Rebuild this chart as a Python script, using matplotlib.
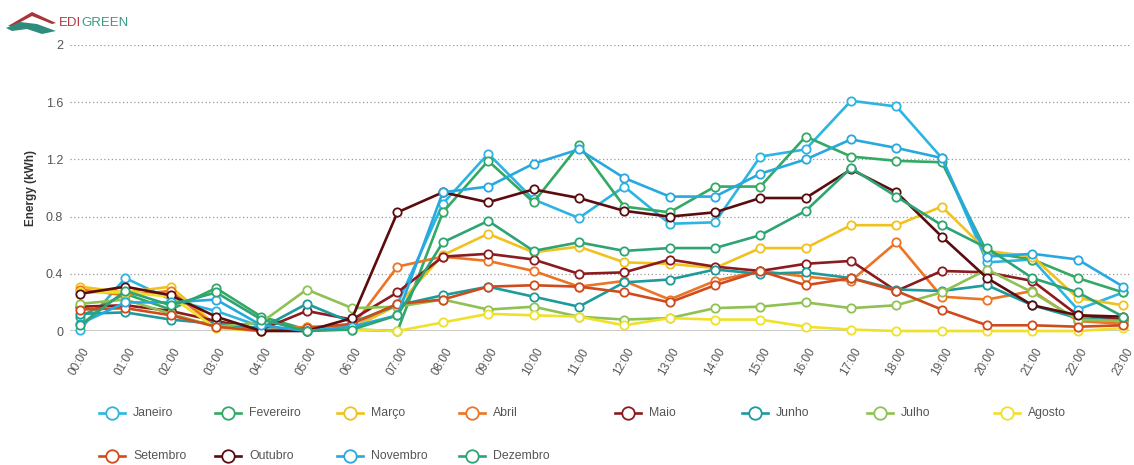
import matplotlib
matplotlib.use("Agg")
import matplotlib.pyplot as plt
from matplotlib.lines import Line2D
from matplotlib.patches import Polygon
from matplotlib.transforms import ScaledTranslation

plt.rcParams['font.family'] = ['Liberation Sans', 'DejaVu Sans']

hours = ["%02d:00" % h for h in range(24)]

janeiro = [0.01, 0.37, 0.22, 0.14, 0.03, 0.00, 0.02, 0.19, 0.89, 1.24, 0.92, 0.79,
           1.01, 0.75, 0.76, 1.22, 1.27, 1.61, 1.57, 1.21, 0.48, 0.50, 0.15, 0.27]
fevereiro = [0.10, 0.26, 0.15, 0.30, 0.10, 0.01, 0.01, 0.00, 0.83, 1.19, 0.90, 1.30,
             0.87, 0.83, 1.01, 1.01, 1.36, 1.22, 1.19, 1.18, 0.55, 0.50, 0.37, 0.27]
marco = [0.31, 0.27, 0.31, 0.04, 0.00, 0.03, 0.02, 0.18, 0.53, 0.68, 0.55, 0.59,
         0.48, 0.47, 0.44, 0.58, 0.58, 0.74, 0.74, 0.87, 0.56, 0.52, 0.23, 0.18]
abril = [0.29, 0.25, 0.28, 0.03, 0.00, 0.03, 0.03, 0.45, 0.52, 0.49, 0.42, 0.31,
         0.35, 0.22, 0.35, 0.42, 0.38, 0.35, 0.62, 0.24, 0.22, 0.28, 0.07, 0.05]
maio = [0.17, 0.18, 0.14, 0.07, 0.01, 0.14, 0.08, 0.27, 0.52, 0.54, 0.50, 0.40,
        0.41, 0.50, 0.45, 0.42, 0.47, 0.49, 0.28, 0.42, 0.41, 0.35, 0.11, 0.08]
junho = [0.12, 0.13, 0.08, 0.05, 0.02, 0.19, 0.06, 0.18, 0.25, 0.31, 0.24, 0.17,
         0.34, 0.36, 0.43, 0.40, 0.41, 0.37, 0.29, 0.28, 0.32, 0.18, 0.09, 0.07]
julho = [0.19, 0.22, 0.12, 0.03, 0.06, 0.29, 0.16, 0.17, 0.22, 0.15, 0.17, 0.10,
         0.08, 0.09, 0.16, 0.17, 0.20, 0.16, 0.18, 0.27, 0.43, 0.27, 0.08, 0.07]
agosto = [0.27, 0.27, 0.24, 0.02, 0.00, 0.02, 0.01, 0.00, 0.06, 0.12, 0.11, 0.10,
          0.04, 0.09, 0.08, 0.08, 0.03, 0.01, 0.00, 0.00, 0.00, 0.00, 0.00, 0.02]
setembro = [0.15, 0.16, 0.11, 0.03, 0.00, 0.02, 0.05, 0.19, 0.22, 0.31, 0.32, 0.31,
            0.27, 0.20, 0.32, 0.42, 0.32, 0.37, 0.28, 0.15, 0.04, 0.04, 0.03, 0.04]
outubro = [0.26, 0.31, 0.25, 0.10, 0.00, 0.00, 0.09, 0.83, 0.97, 0.90, 0.99, 0.93,
           0.84, 0.80, 0.83, 0.93, 0.93, 1.13, 0.97, 0.66, 0.37, 0.18, 0.11, 0.10]
novembro = [0.05, 0.20, 0.20, 0.22, 0.04, 0.00, 0.03, 0.11, 0.97, 1.01, 1.17, 1.27,
            1.07, 0.94, 0.94, 1.10, 1.20, 1.34, 1.28, 1.21, 0.52, 0.54, 0.50, 0.31]
dezembro = [0.04, 0.28, 0.18, 0.27, 0.08, 0.00, 0.01, 0.11, 0.62, 0.77, 0.56, 0.62,
            0.56, 0.58, 0.58, 0.67, 0.84, 1.14, 0.94, 0.74, 0.58, 0.37, 0.27, 0.10]

months = ["Janeiro", "Fevereiro", "Março", "Abril", "Maio", "Junho",
          "Julho", "Agosto", "Setembro", "Outubro", "Novembro", "Dezembro"]
series = [janeiro, fevereiro, marco, abril, maio, junho,
          julho, agosto, setembro, outubro, novembro, dezembro]
colors = ["#2db4e2", "#33a965", "#f0c21e", "#ec7424", "#8c1b1f", "#1d9a9c",
          "#8fc153", "#efe12a", "#cf4b1d", "#5a0c0e", "#27a9df", "#2ea475"]

W, H = 1134, 465
fig = plt.figure(figsize=(W / 100, H / 100), dpi=100)
ax = fig.add_axes([70 / W, 1 - 331 / H, 1060 / W, 286 / H])

x = list(range(len(hours)))
for vals, col in zip(series, colors):
    ax.plot(x, vals, color=col, lw=1.9, marker='o', ms=6, mfc='white',
            mec=col, mew=1.3, clip_on=False, zorder=3)

ax.set_xlim(-0.22, 23.15)
ax.set_ylim(0, 2)
ax.set_yticks([0, 0.4, 0.8, 1.2, 1.6, 2])
ax.set_yticklabels(["0", "0.4", "0.8", "1.2", "1.6", "2"])
for v in [0.4, 0.8, 1.2, 1.6, 2]:
    ax.axhline(v, color='#9a9a9a', lw=0.9, ls=(0, (1, 2)), zorder=1)
ax.axhline(0, color='#c0c0c0', lw=1.2, zorder=1)
for s in ax.spines.values():
    s.set_visible(False)

ax.set_xticks(x)
ax.set_xticklabels(hours, rotation=60, ha='right', va='center',
                   rotation_mode='anchor')
ax.tick_params(axis='x', length=0, pad=13, labelsize=8.5, labelcolor='#555555')
ax.tick_params(axis='y', length=0, pad=5, labelsize=9, labelcolor='#555555')
shift = ScaledTranslation(7 / 100, 0, fig.dpi_scale_trans)
for lab in ax.get_xticklabels():
    lab.set_transform(lab.get_transform() + shift)

fig.text(31 / W, 1 - 188 / H, "Energy (kWh)", rotation=90, ha='center',
         va='center', fontsize=8.5, fontweight='bold', color='#333333')

# legend laid out in two rows of eight columns
col_x = [112, 228, 350, 472, 628, 755, 880, 1007]
row_y = [413, 456]
for i, (name, col) in enumerate(zip(months, colors)):
    cx = col_x[i % 8]
    cy = row_y[i // 8]
    fig.add_artist(Line2D([(cx - 13) / W, (cx + 13) / W], [1 - cy / H, 1 - cy / H],
                          transform=fig.transFigure, color=col, lw=1.9))
    fig.add_artist(Line2D([cx / W], [1 - cy / H], transform=fig.transFigure,
                          marker='o', ms=9, mfc='white', mec=col, mew=1.3))
    fig.text((cx + 21) / W, 1 - cy / H, name, ha='left', va='center',
             fontsize=8.8, color='#555555')

# logo: roof, wave and name
roof = Polygon([(8 / W, 1 - 26 / H), (32 / W, 1 - 12 / H), (56 / W, 1 - 23 / H),
                (52 / W, 1 - 24 / H), (32 / W, 1 - 16 / H), (13 / W, 1 - 26 / H)],
               closed=True, transform=fig.transFigure, color='#a8353a', lw=0)
wave = Polygon([(6 / W, 1 - 28 / H), (20 / W, 1 - 22 / H), (37 / W, 1 - 24 / H),
                (56 / W, 1 - 31 / H), (42 / W, 1 - 34 / H), (27 / W, 1 - 29 / H),
                (12 / W, 1 - 31 / H)],
               closed=True, transform=fig.transFigure, color='#2f8c7c', lw=0)
fig.add_artist(roof)
fig.add_artist(wave)
fig.text(59 / W, 1 - 23 / H, "EDI", ha='left', va='center', fontsize=9.5,
         color='#b03a40')
fig.text(81 / W, 1 - 23 / H, "GREEN", ha='left', va='center', fontsize=9.5,
         color='#3a9a8a')

fig.savefig("out.png", dpi=100)
